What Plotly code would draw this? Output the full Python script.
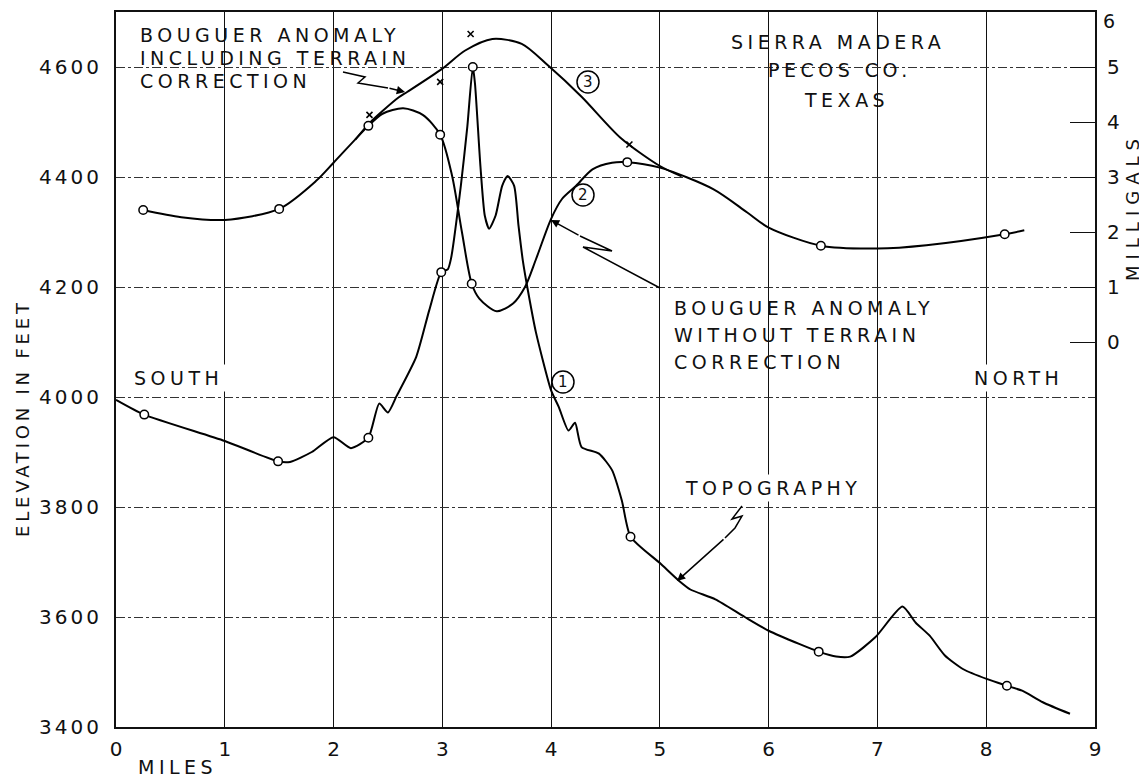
import plotly.graph_objects as go

# ---------------- data ----------------
# Curve 1: topography (elevation in feet)
topo_miles = [0.00, 0.26, 1.00, 1.49, 1.60, 1.80, 2.00, 2.16, 2.32, 2.42, 2.50, 2.58, 2.76, 2.88,
              2.99, 3.05, 3.08, 3.17, 3.23, 3.28, 3.30, 3.35, 3.39, 3.43, 3.49, 3.55, 3.60, 3.66,
              3.70, 3.74, 3.79, 3.86, 4.00, 4.07, 4.16, 4.22, 4.28, 4.44, 4.56, 4.65, 4.73, 5.00,
              5.18, 5.28, 5.51, 5.78, 6.00, 6.28, 6.46, 6.62, 6.75, 6.98, 7.23, 7.35, 7.48, 7.62,
              7.79, 8.01, 8.19, 8.33, 8.52, 8.77]
topo_feet = [3995, 3968, 3920, 3883, 3882, 3900, 3927, 3907, 3926, 3988, 3972, 4002, 4073, 4158,
             4227, 4232, 4252, 4384, 4492, 4600, 4570, 4420, 4330, 4306, 4330, 4384, 4402, 4384,
             4312, 4248, 4190, 4118, 4012, 3982, 3939, 3953, 3909, 3897, 3867, 3812, 3746, 3698,
             3665, 3650, 3632, 3600, 3575, 3551, 3537, 3528, 3528, 3563, 3619, 3590, 3566, 3530,
             3505, 3487, 3475, 3466, 3445, 3424]
topo_station_miles = [0.26, 1.49, 2.32, 2.99, 3.28, 4.73, 6.46, 8.19]
topo_station_feet = [3968, 3883, 3926, 4227, 4600, 3746, 3537, 3475]

# Curve 2: Bouguer anomaly without terrain correction (milligals)
b2_miles = [0.25, 0.60, 1.00, 1.50, 1.84, 2.00, 2.32, 2.45, 2.64, 2.82, 2.98, 3.09, 3.18, 3.27,
            3.34, 3.50, 3.65, 3.76, 3.86, 4.00, 4.10, 4.23, 4.38, 4.56, 4.70, 5.00, 5.49, 5.80,
            6.00, 6.48, 7.00, 7.45, 8.17, 8.35]
b2_mgal = [2.40, 2.27, 2.22, 2.42, 2.93, 3.26, 3.93, 4.15, 4.25, 4.13, 3.77, 3.02, 2.00, 1.06,
           0.79, 0.56, 0.70, 1.00, 1.50, 2.24, 2.60, 2.84, 3.14, 3.26, 3.27, 3.17, 2.78, 2.36,
           2.08, 1.75, 1.70, 1.76, 1.96, 2.03]
b2_station_miles = [0.25, 1.50, 2.32, 2.98, 3.27, 4.70, 6.48, 8.17]
b2_station_mgal = [2.40, 2.42, 3.93, 3.77, 1.06, 3.27, 1.75, 1.96]

# Curve 3: Bouguer anomaly including terrain correction (part that departs from curve 2)
b3_miles = [2.20, 2.33, 2.45, 2.60, 2.68, 3.00, 3.21, 3.46, 3.73, 3.97, 4.28, 4.64, 5.00, 5.20]
b3_mgal = [3.68, 3.98, 4.20, 4.45, 4.55, 4.97, 5.30, 5.51, 5.42, 5.03, 4.46, 3.71, 3.20, 3.01]
b3_station_miles = [2.33, 2.98, 3.26, 4.72]
b3_station_mgal = [4.13, 4.73, 5.60, 3.59]

x_ticks = [0, 1, 2, 3, 4, 5, 6, 7, 8, 9]
elev_ticks = [3400, 3600, 3800, 4000, 4200, 4400, 4600]
mgal_ticks = [0, 1, 2, 3, 4, 5, 6]

# ---------------- layout helpers ----------------
FONT = "DejaVu Sans"
OFF = 8                      # default page margin of the html body
PAGE_W, PAGE_H = 1147, 783
FW, FH = PAGE_W - OFF, PAGE_H - OFF
# plot frame in page pixels: left 116, right 1095, top 12, bottom 727
L, R, T, B = 116 - OFF, FW - (1095 - OFF), 12 - OFF, FH - (727 - OFF)
W = FW - L - R
H = FH - T - B


def pp(px, py):
    """page pixel -> paper coordinates"""
    return (px - OFF - L) / W, (FH - B - (py - OFF)) / H


def spaced(s, sp):
    return '<span style="letter-spacing:%spx">%s</span>' % (sp, s)


fig = go.Figure()

line_style = dict(color="black", width=2)
fig.add_trace(go.Scatter(x=topo_miles, y=topo_feet, mode="lines",
                         line=dict(shape="spline", smoothing=0.6, **line_style),
                         hoverinfo="skip", showlegend=False))
fig.add_trace(go.Scatter(x=b2_miles, y=b2_mgal, yaxis="y2", mode="lines",
                         line=dict(shape="spline", smoothing=0.8, **line_style),
                         hoverinfo="skip", showlegend=False))
fig.add_trace(go.Scatter(x=b3_miles, y=b3_mgal, yaxis="y2", mode="lines",
                         line=dict(shape="spline", smoothing=0.8, **line_style),
                         hoverinfo="skip", showlegend=False))
circ = dict(symbol="circle", size=8.5, color="white", line=dict(color="black", width=1.5))
fig.add_trace(go.Scatter(x=topo_station_miles, y=topo_station_feet, mode="markers",
                         marker=circ, showlegend=False, hoverinfo="skip"))
fig.add_trace(go.Scatter(x=b2_station_miles, y=b2_station_mgal, yaxis="y2", mode="markers",
                         marker=circ, showlegend=False, hoverinfo="skip"))
fig.add_trace(go.Scatter(x=b3_station_miles, y=b3_station_mgal, yaxis="y2", mode="markers",
                         marker=dict(symbol="x-thin", size=6, line=dict(color="black", width=1.6)),
                         showlegend=False, hoverinfo="skip"))

annotations = []
shapes = []


def blank(x0, y0, x1, y1):
    """white patch hiding the grid behind a text block (below the curves)"""
    a0, b0 = pp(x0, y0)
    a1, b1 = pp(x1, y1)
    shapes.append(dict(type="rect", xref="paper", yref="paper", x0=a0, x1=a1, y0=b1, y1=b0,
                       fillcolor="white", line=dict(width=0), layer="below"))


def label(text, px, py, size=19, sp=4.5, xanchor="left", angle=0, bg="white"):
    x, y = pp(px, py)
    annotations.append(dict(text=spaced(text, sp), x=x, y=y, xref="paper", yref="paper",
                            xanchor=xanchor, yanchor="middle", showarrow=False,
                            textangle=angle, bgcolor=bg, borderpad=2,
                            font=dict(family=FONT, size=size, color="#111")))


# grid gaps behind text blocks
blank(131, 13, 414, 100)
blank(705, 13, 975, 58)
blank(771, 58, 975, 126)
blank(668, 293, 922, 375)

# top-left label (curve 3)
label("BOUGUER ANOMALY", 137, 35, bg=None)
label("INCLUDING TERRAIN", 137, 58, bg=None)
label("CORRECTION", 137, 81, bg=None)
# location label
label("SIERRA MADERA", 838, 42, xanchor="center", bg=None)
label("PECOS CO.", 840, 70, xanchor="center", bg=None)
label("TEXAS", 846, 100, xanchor="center", bg=None)
# curve 2 label
label("BOUGUER ANOMALY", 671, 308, bg=None)
label("WITHOUT TERRAIN", 671, 335, bg=None)
label("CORRECTION", 671, 362, bg=None)
label("TOPOGRAPHY", 773, 488, xanchor="center")
label("SOUTH", 178, 378, xanchor="center")
label("NORTH", 1018, 378, xanchor="center")
label("MILES", 177, 767, xanchor="center", bg=None)
label("ELEVATION IN FEET", 22, 418, size=18, sp=3.8, xanchor="center", angle=-90, bg=None)
label("MILLIGALS", 1133, 207, size=18, sp=6, xanchor="center", angle=-90, bg=None)

# top right-axis label (sits on the frame corner)
x6, y6 = pp(1102, 9)
annotations.append(dict(text=str(mgal_ticks[-1]), x=x6, y=y6, xref="paper", yref="paper",
                        xanchor="left", yanchor="top", showarrow=False, borderpad=0,
                        font=dict(family=FONT, size=19, color="#111")))

# circled curve numbers
for num, (cx, cy) in {"1": (563, 382), "2": (583, 195), "3": (588, 82)}.items():
    x, y = pp(cx, cy)
    shapes.append(dict(type="circle", xref="paper", yref="paper", xsizemode="pixel",
                       ysizemode="pixel", xanchor=x, yanchor=y, x0=-11, x1=11, y0=-11, y1=11,
                       line=dict(color="black", width=1.5), fillcolor="white"))
    annotations.append(dict(text=num, x=x, y=y, xref="paper", yref="paper", showarrow=False,
                            xanchor="center", yanchor="middle",
                            font=dict(family=FONT, size=15, color="#111")))


def path(points):
    parts = []
    for i, (px, py) in enumerate(points):
        x, y = pp(px, py)
        parts.append(("M" if i == 0 else "L") + " %.5f,%.5f" % (x, y))
    return " ".join(parts)


def arrow(zig, tip):
    shapes.append(dict(type="path", xref="paper", yref="paper", path=path(zig),
                       line=dict(color="black", width=1.5)))
    tx, ty = pp(*tip)
    ax = zig[-1][0] - tip[0]
    ay = zig[-1][1] - tip[1]
    annotations.append(dict(text="", x=tx, y=ty, xref="paper", yref="paper", showarrow=True,
                            ax=ax, ay=ay, arrowhead=2, arrowsize=1.1, arrowwidth=1.5,
                            arrowcolor="black", standoff=0))


arrow([(343, 72), (365, 77), (358, 83), (388, 88)], (405, 92))
arrow([(660, 288), (583, 247), (612, 251), (580, 236)], (551, 220))
arrow([(742, 506), (732, 519), (742, 516), (735, 528), (725, 538)], (677, 581))

fig.update_layout(
    width=FW, height=FH,
    margin=dict(l=L, r=R, t=T, b=B, autoexpand=False),
    paper_bgcolor="white", plot_bgcolor="white",
    font=dict(family=FONT, color="#111"),
    xaxis=dict(range=[0, 9], tickvals=x_ticks, ticktext=[str(v) for v in x_ticks],
               showgrid=True, gridcolor="#111", gridwidth=1.4, zeroline=False,
               showline=True, linecolor="#111", linewidth=2, mirror=True, automargin=False,
               ticks="", tickfont=dict(size=20), ticklabelstandoff=3),
    yaxis=dict(range=[3400, 4700], tickvals=elev_ticks,
               ticktext=[spaced(str(v), 3) for v in elev_ticks],
               showgrid=True, gridcolor="#333", gridwidth=1, griddash="dashdot",
               zeroline=False, showline=True, linecolor="#111", linewidth=2, mirror=True,
               automargin=False, ticks="", tickfont=dict(size=20), ticklabelstandoff=8),
    yaxis2=dict(range=[-7, 6], overlaying="y", side="right", tickvals=mgal_ticks[:-1],
                ticktext=[str(v) for v in mgal_ticks[:-1]], showgrid=False, zeroline=False,
                showline=True, linecolor="#111", linewidth=2, automargin=False,
                ticks="inside", ticklen=25, tickwidth=1.4, tickcolor="#111",
                tickfont=dict(size=20), ticklabelstandoff=6),
    annotations=annotations,
    shapes=shapes,
)

fig.write_html("out.html")
